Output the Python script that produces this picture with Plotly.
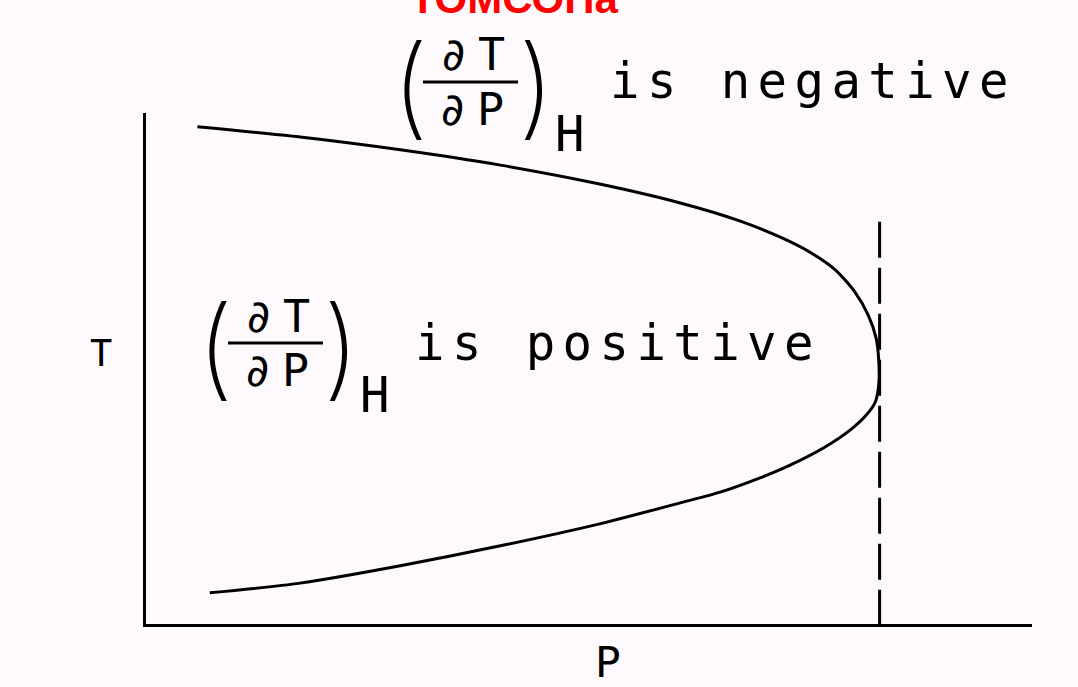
import plotly.graph_objects as go

# Inversion curve (reduced units): pressure P and temperature T along the curve,
# from the upper branch, round the nose, down to the lower branch.
inversion_P = [0.58, 1.74, 2.87, 4.00, 5.12, 6.03, 6.70, 7.16, 7.49, 7.78, 8.00, 8.15, 8.24,
               8.27, 8.27, 8.23, 8.13, 7.95, 7.66, 7.27, 6.93, 6.48, 6.03, 5.12, 4.00, 2.87,
               1.74, 0.72]
inversion_T = [9.73, 9.53, 9.28, 8.98, 8.61, 8.24, 7.89, 7.57, 7.28, 6.93, 6.50, 6.05, 5.60,
               5.17, 4.68, 4.34, 4.09, 3.80, 3.46, 3.11, 2.86, 2.58, 2.37, 1.96, 1.53, 1.14,
               0.80, 0.61]

# Maximum inversion pressure (vertical dashed line)
max_P = [8.28, 8.28]
max_T = [7.87, 0.0]

title_text = "ТОМСОНа"
axis_x_label = "P"
axis_y_label = "T"
region_labels = ["is negative", "is positive"]

W, H = 1078, 687
L, R, T_M, B = 146, 46, 113, 63
PW, PH = W - L - R, H - T_M - B


def paper(x, y):
    """Figure pixel position -> paper coordinates."""
    return (x - L) / PW, (H - B - y) / PH


BG = "#fdf9fd"
MONO = "DejaVu Sans Mono"

fig = go.Figure()
fig.add_trace(go.Scatter(x=inversion_P, y=inversion_T, mode="lines",
                         line=dict(color="black", width=3, shape="spline", smoothing=0.7),
                         hoverinfo="skip", showlegend=False))
fig.add_trace(go.Scatter(x=max_P, y=max_T, mode="lines",
                         line=dict(color="black", width=3, dash="36px,10px"),
                         hoverinfo="skip", showlegend=False))

annotations = []
shapes = []


def add_text(text, x, y, size, family=MONO, color="black", xanchor="center",
             weight="normal", spacing=None):
    px_, py_ = paper(x, y)
    if spacing is not None:
        text = f'<span style="letter-spacing:{spacing}px">{text}</span>'
    annotations.append(dict(text=text, x=px_, y=py_, xref="paper", yref="paper",
                            xanchor=xanchor, yanchor="middle", showarrow=False,
                            font=dict(family=family, size=size, color=color, weight=weight)))


def derivative_group(dx, dy, label):
    # (dT/dP)_H : parentheses, fraction, subscript, then the sign statement
    add_text("(", 215 + dx, 346 + dy, 110, family="Inter", weight=200)
    add_text(")", 341 + dx, 346 + dy, 110, family="Inter", weight=200)
    add_text("∂T", 283 + dx, 316 + dy, 45, spacing=11)
    add_text("∂P", 282 + dx, 370 + dy, 45, spacing=11)
    x0, y0 = paper(228 + dx, 343 + dy)
    x1, _ = paper(323 + dx, 343 + dy)
    shapes.append(dict(type="line", xref="paper", yref="paper", x0=x0, x1=x1, y0=y0, y1=y0,
                       line=dict(color="black", width=3)))
    add_text("H", 375 + dx, 395 + dy, 49)
    add_text(label, 413 + dx, 343 + dy, 49, xanchor="left", spacing=7.4)


derivative_group(195, -261, region_labels[0])
derivative_group(0, 0, region_labels[1])

add_text(axis_y_label, 101, 353, 37)
add_text(axis_x_label, 608, 662, 43)
add_text(title_text, 514, -1, 42, family="Liberation Sans", color="#ff0000", weight="bold")

axis_style = dict(showline=True, linecolor="black", linewidth=3, showgrid=False,
                  zeroline=False, showticklabels=False, ticks="", fixedrange=True)

fig.update_layout(
    width=W, height=H,
    margin=dict(l=L, r=R, t=T_M, b=B),
    paper_bgcolor=BG, plot_bgcolor=BG,
    xaxis=dict(range=[0, 10], **axis_style),
    yaxis=dict(range=[0, 10], **axis_style),
    annotations=annotations,
    shapes=shapes,
    showlegend=False,
)

fig.write_html("out.html", config={"displayModeBar": False})
